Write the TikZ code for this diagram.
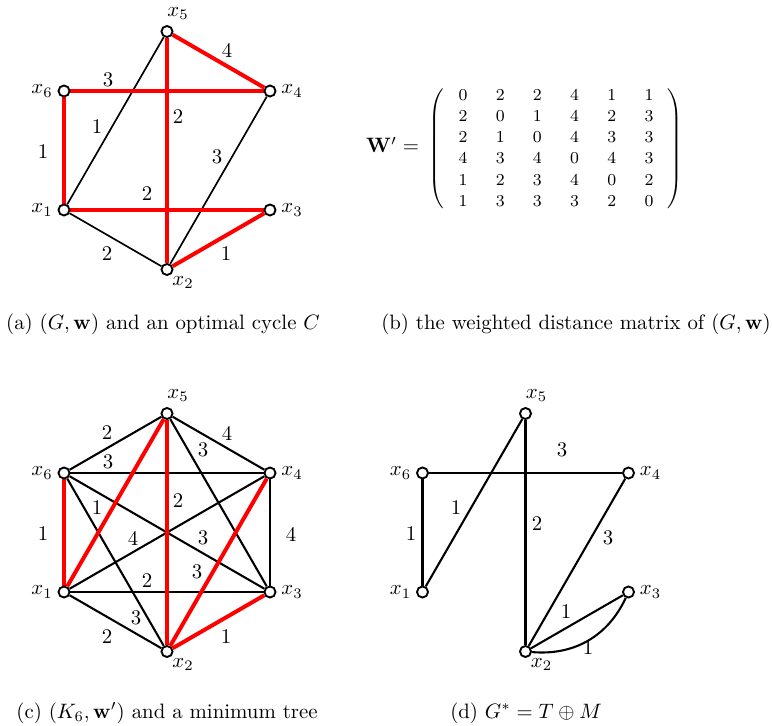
\documentclass[tikz,border=0pt]{standalone}
\usepackage{amsmath}
\pgfdeclarelayer{bg}
\pgfsetlayers{bg,main}
\tikzset{
  v/.style={circle, draw, fill=white, line width=0.9pt, minimum size=5.3pt, inner sep=0pt},
  vl/.style={font=\fontsize{10}{12}\selectfont, inner sep=0pt},
  el/.style={font=\fontsize{10}{12}\selectfont, inner sep=0pt},
  blk/.style={line width=0.8pt, black},
  blkc/.style={line width=1pt, black},
  rede/.style={line width=1.9pt, red},
  captext/.style={font=\fontsize{10}{12}\selectfont, anchor=base, inner sep=0pt}
}
\newcommand\hexv[3]{%
  \node[v] (#1-5) at (#2,#3-119) {};
  \node[v] (#1-4) at (#2+103,#3-59.5) {};
  \node[v] (#1-3) at (#2+103,#3+59.5) {};
  \node[v] (#1-2) at (#2,#3+119) {};
  \node[v] (#1-1) at (#2-103,#3+59.5) {};
  \node[v] (#1-6) at (#2-103,#3-59.5) {};
  \node[vl] (#1-l5) at (#2+11,#3-137) {$x_5$};
  \node[vl] (#1-l4) at (#2+125,#3-59.5) {$x_4$};
  \node[vl] (#1-l3) at (#2+125,#3+59.5) {$x_3$};
  \node[vl] (#1-l2) at (#2+16,#3+132) {$x_2$};
  \node[vl] (#1-l1) at (#2-125,#3+59.5) {$x_1$};
  \node[vl] (#1-l6) at (#2-125,#3-59.5) {$x_6$};
}
\begin{document}
\begin{tikzpicture}[x=0.48pt, y=-0.48pt]
\useasboundingbox (0,0) rectangle (772,726);

% ---------- (a) ----------
\hexv{a}{167}{150.5}
\begin{pgfonlayer}{bg}
  \draw[blk] (a-5) -- (a-1);
  \draw[blk] (a-4) -- (a-2);
  \draw[blk] (a-1) -- (a-2);
  \draw[rede] (a-6) -- (a-4);
  \draw[rede] (a-5) -- (a-4);
  \draw[rede] (a-5) -- (a-2);
  \draw[rede] (a-6) -- (a-1);
  \draw[rede] (a-1) -- (a-3);
  \draw[rede] (a-2) -- (a-3);
\end{pgfonlayer}
\node[el] (a-w54) at (227,50) {4};
\node[el] (a-w64) at (108,80) {3};
\node[el] (a-w52) at (178,117) {2};
\node[el] (a-w51) at (97,127) {1};
\node[el] (a-w61) at (43,152) {1};
\node[el] (a-w42) at (217,157) {3};
\node[el] (a-w13) at (147,194) {2};
\node[el] (a-w12) at (107,254) {2};
\node[el] (a-w23) at (226,254) {1};
\node[captext] (capa) at (163,330) {(a) $(G,\mathbf{w})$ and an optimal cycle $C$};

% ---------- (b) ----------
\node[anchor=base, inner sep=0pt, font=\fontsize{10}{12}\selectfont] (Wlab) at (392.5,153) {$\mathbf{W}'=$};
\node[inner sep=0pt] (Wmat) at (556,149) {\fontsize{8.5}{10.2}\selectfont$\setlength\arraycolsep{6.8pt}\left(\begin{array}{cccccc}
0&2&2&4&1&1\\
2&0&1&4&2&3\\
2&1&0&4&3&3\\
4&3&4&0&4&3\\
1&2&3&4&0&2\\
1&3&3&3&2&0
\end{array}\right)$};
\node[captext] (capb) at (576,330) {(b) the weighted distance matrix of $(G,\mathbf{w})$};

% ---------- (c) ----------
\hexv{c}{167}{532.5}
\begin{pgfonlayer}{bg}
  \draw[blkc] (c-6) -- (c-5);
  \draw[blkc] (c-5) -- (c-4);
  \draw[blkc] (c-5) -- (c-3);
  \draw[blkc] (c-6) -- (c-4);
  \draw[blkc] (c-6) -- (c-3);
  \draw[blkc] (c-6) -- (c-2);
  \draw[blkc] (c-1) -- (c-4);
  \draw[blkc] (c-1) -- (c-3);
  \draw[blkc] (c-1) -- (c-2);
  \draw[blkc] (c-4) -- (c-3);
  \draw[rede] (c-6) -- (c-1);
  \draw[rede] (c-1) -- (c-5);
  \draw[rede] (c-5) -- (c-2);
  \draw[rede] (c-2) -- (c-4);
  \draw[rede] (c-2) -- (c-3);
\end{pgfonlayer}
\node[el] (c-w65) at (107,433) {2};
\node[el] (c-w54) at (227,433) {4};
\node[el] (c-w53) at (203,450) {3};
\node[el] (c-w64) at (108,462) {3};
\node[el] (c-w52) at (178,501) {2};
\node[el] (c-w15) at (97,508) {1};
\node[el] (c-w61) at (43,534) {1};
\node[el] (c-w14) at (133,538) {4};
\node[el] (c-w63) at (203,538) {3};
\node[el] (c-w43) at (291,534) {4};
\node[el] (c-w24) at (197,572) {3};
\node[el] (c-w13) at (147,581) {2};
\node[el] (c-w62) at (136,618) {3};
\node[el] (c-w12) at (107,637) {2};
\node[el] (c-w23) at (226,637) {1};
\node[captext] (capc) at (167,718) {(c) $(K_6,\mathbf{w}')$ and a minimum tree};

% ---------- (d) ----------
\hexv{d}{525.5}{532.5}
\begin{pgfonlayer}{bg}
  \draw[blkc] (d-6) -- (d-1);
  \draw[blkc] (d-5) -- (d-1);
  \draw[blkc] (d-6) -- (d-4);
  \draw[blkc] (d-5) -- (d-2);
  \draw[blkc] (d-4) -- (d-2);
  \draw[blkc] (d-2) -- (d-3);
  \draw[blkc] (d-2) to[bend right=35] (d-3);
\end{pgfonlayer}
\node[el] (d-w64) at (562,450) {3};
\node[el] (d-w51) at (456,508) {1};
\node[el] (d-w52) at (537,524) {2};
\node[el] (d-w61) at (411,534) {1};
\node[el] (d-w42) at (608,538) {3};
\node[el] (d-w23a) at (566,612) {1};
\node[el] (d-w23b) at (588,648) {1};
\node[captext] (capd) at (526,718) {(d) $G^*=T\oplus M$};
\end{tikzpicture}
\end{document}
